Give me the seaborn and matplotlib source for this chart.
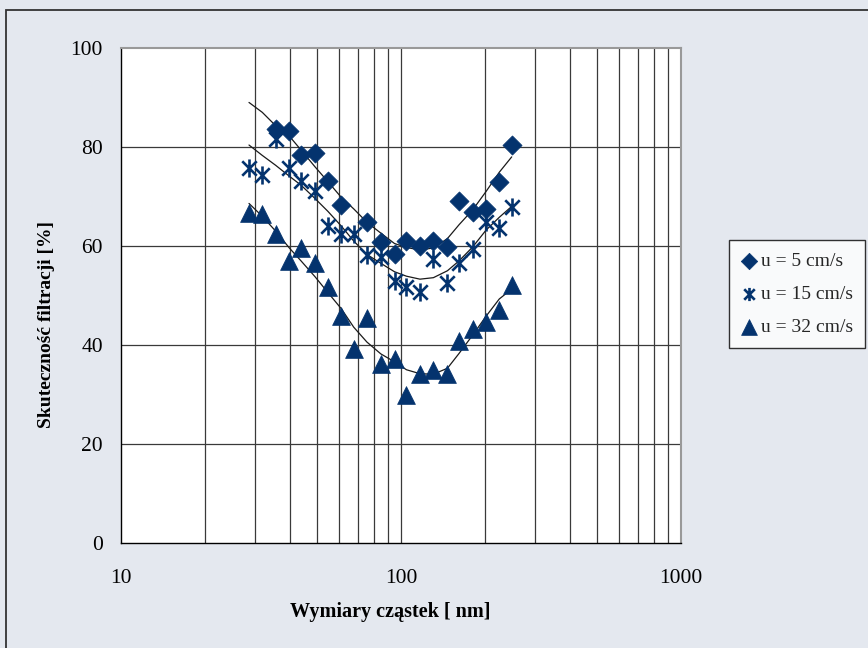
import numpy as np
import pandas as pd
import matplotlib
matplotlib.use("Agg")
import matplotlib.pyplot as plt
from matplotlib.path import Path
from matplotlib.patches import Rectangle
from matplotlib.ticker import FixedLocator, NullFormatter
import seaborn as sns

# ---------------- data ----------------
size_nm = [28.65, 31.96, 35.68, 39.92, 43.94, 49.30, 54.82, 61.26, 67.79, 75.54,
           84.73, 94.80, 104.6, 116.9, 130.5, 146.5, 161.2, 180.3, 201.2, 224.4, 248.5]

# u = 5 cm/s (diamonds) -- 18 points
size_u5 = [35.68, 39.92, 43.94, 49.30, 54.82, 61.26, 75.54, 84.73, 94.80, 104.6,
           116.9, 130.5, 146.5, 161.2, 180.3, 201.2, 224.4, 248.5]
eff_u5 = [83.6, 83.3, 78.3, 78.7, 73.2, 68.3, 64.8, 60.9, 58.4, 61.1,
          60.0, 61.0, 59.7, 69.1, 66.8, 67.5, 73.0, 80.5]

# u = 15 cm/s (stars)
eff_u15 = [75.7, 74.3, 81.6, 75.7, 73.1, 71.2, 64.0, 62.4, 62.4, 58.1,
           57.8, 53.0, 51.8, 50.7, 57.3, 52.6, 56.5, 59.3, 64.8, 63.7, 67.9]

# u = 32 cm/s (triangles)
eff_u32 = [66.7, 66.4, 62.4, 57.0, 59.5, 56.5, 51.8, 45.9, 39.1, 45.5,
           36.2, 37.1, 29.8, 34.1, 34.9, 34.1, 40.8, 43.2, 44.7, 47.1, 52.1]

# trend lines (at each size class)
trend_u5 = [89.0, 87.0, 84.3, 82.2, 79.4, 76.0, 73.0, 69.8, 67.5, 64.8,
            62.6, 60.5, 59.7, 59.2, 59.6, 61.5, 64.3, 67.3, 71.0, 74.9, 78.0]
trend_u15 = [80.4, 78.3, 76.3, 74.1, 72.3, 69.6, 67.0, 64.0, 61.0, 58.3,
             56.5, 54.8, 53.9, 53.3, 53.6, 55.0, 57.0, 59.8, 63.2, 65.8, 68.0]
trend_u32 = [68.6, 66.0, 63.0, 59.6, 57.0, 53.8, 50.6, 47.3, 43.6, 40.6,
             38.2, 36.6, 35.0, 34.2, 34.1, 35.3, 38.3, 42.0, 45.8, 49.3, 51.3]

labels = ["u = 5 cm/s", "u = 15 cm/s", "u = 32 cm/s"]
x_ticks = [10, 100, 1000]
y_ticks = [0, 20, 40, 60, 80, 100]

# ---------------- style ----------------
sns.set_theme(style="white")
plt.rcParams["font.family"] = ["Liberation Serif", "DejaVu Serif"]

navy = "#04336E"
bg = "#E4E8EF"

# asterisk-like star marker (x plus vertical bar)
star = Path([(-0.8, -0.8), (0.8, 0.8), (-0.8, 0.8), (0.8, -0.8), (0, -1.0), (0, 1.0)],
            [Path.MOVETO, Path.LINETO, Path.MOVETO, Path.LINETO, Path.MOVETO, Path.LINETO])

fig = plt.figure(figsize=(8.68, 6.48), dpi=100, facecolor=bg)
ax = fig.add_axes([121 / 868, 1 - 543 / 648, 560 / 868, 495 / 648])
ax.set_facecolor("white")

# outer frame
fig.patches.append(Rectangle((5.5 / 868, -0.1), 1.2, 1 - 10.5 / 648 + 0.1,
                             transform=fig.transFigure, fill=False,
                             edgecolor="#333333", linewidth=1.3, zorder=0))

df_u5 = pd.DataFrame({"size": size_u5, "eff": eff_u5})
df_u15 = pd.DataFrame({"size": size_nm, "eff": eff_u15})
df_u32 = pd.DataFrame({"size": size_nm, "eff": eff_u32})
df_tr = pd.DataFrame({"size": size_nm * 3,
                      "eff": trend_u5 + trend_u15 + trend_u32,
                      "series": ["a"] * 21 + ["b"] * 21 + ["c"] * 21})

sns.lineplot(data=df_tr, x="size", y="eff", units="series", estimator=None,
             color="#1a1a1a", linewidth=0.9, ax=ax, legend=False, zorder=3)

sns.scatterplot(data=df_u5, x="size", y="eff", marker="D", s=95, color=navy,
                edgecolor=navy, linewidth=0.5, ax=ax, label=labels[0], zorder=4)
sns.scatterplot(data=df_u15, x="size", y="eff", marker=star, s=170, color=navy,
                edgecolor=navy, linewidth=1.9, ax=ax, label=labels[1], zorder=4)
sns.scatterplot(data=df_u32, x="size", y="eff", marker="^", s=165, color=navy,
                edgecolor=navy, linewidth=0.5, ax=ax, label=labels[2], zorder=4)

ax.set_xscale("log")
ax.set_xlim(10, 1000)
ax.set_ylim(0, 100)

# gridlines
minor = [v * d for d in (10, 100) for v in range(2, 10)]
for v in minor:
    ax.axvline(v, color="#3a3a3a", linewidth=0.9, zorder=1)
ax.axvline(100, color="#3a3a3a", linewidth=0.9, zorder=1)
for v in [20, 40, 60, 80]:
    ax.axhline(v, color="#3a3a3a", linewidth=0.9, zorder=1)

ax.xaxis.set_major_locator(FixedLocator(x_ticks))
ax.xaxis.set_minor_locator(FixedLocator(minor))
ax.xaxis.set_minor_formatter(NullFormatter())
ax.set_xticklabels([str(v) for v in x_ticks])
ax.yaxis.set_major_locator(FixedLocator(y_ticks))
ax.set_yticklabels([str(v) for v in y_ticks])
ax.tick_params(axis="both", which="major", direction="out", length=5, width=1,
               color="black", labelsize=15.5, labelcolor="black", pad=8)
ax.tick_params(axis="x", which="minor", length=0)
ax.tick_params(axis="x", which="major", bottom=False, pad=14)

for side in ["left", "bottom"]:
    ax.spines[side].set_color("black")
    ax.spines[side].set_linewidth(1.0)
for side in ["top", "right"]:
    ax.spines[side].set_color("#999999")
    ax.spines[side].set_linewidth(1.5)

ax.set_xlabel("Wymiary cząstek [ nm]", fontsize=14.5, fontweight="bold",
              color="black", va="center")
ax.xaxis.set_label_coords((390.5 - 121) / 560, -(612 - 543) / 495)
ax.set_ylabel("Skuteczność filtracji [%]", fontsize=14, fontweight="bold",
              color="black", va="center")
ax.yaxis.set_label_coords((47 - 121) / 560, (543 - 325) / 495)

leg = ax.legend(loc="center left", bbox_to_anchor=(729 / 868, 1 - 294 / 648),
                bbox_transform=fig.transFigure, frameon=True, fancybox=False,
                fontsize=14, handletextpad=0.15, handlelength=0.9, labelspacing=0.8,
                borderpad=0.6, borderaxespad=0)
leg.get_frame().set_edgecolor("black")
leg.get_frame().set_linewidth(1.0)
leg.get_frame().set_facecolor("white")
for h, s in zip(leg.legend_handles, [70, 90, 130]):
    h.set_sizes([s])

fig.savefig("out.png", dpi=100, facecolor=bg)
